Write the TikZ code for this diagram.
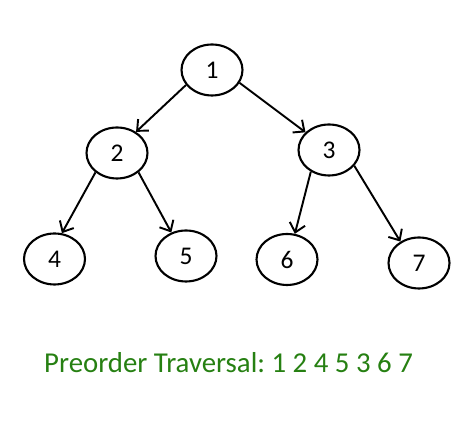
\documentclass[tikz,border=0pt]{standalone}
\usepackage{fontspec}
\setmainfont{Carlito}
\usetikzlibrary{arrows.meta,shapes.geometric}
\definecolor{travgreen}{RGB}{38,128,18}
\frenchspacing

\begin{document}
\begin{tikzpicture}[
  x=0.02cm,y=-0.02cm,
  treenode/.style={ellipse,draw,line width=1.2pt,minimum width=1.22cm,
                   minimum height=1.02cm,inner sep=0pt,font=\fontsize{14.5}{17}\selectfont},
  link/.style={-{Straight Barb[length=5pt,width=9pt,line width=1.1pt]},line width=1.1pt}
]
  \useasboundingbox (0,0) rectangle (476,421);
  \node[treenode] (n1) at (212,70)    {1};
  \node[treenode] (n2) at (117,153)   {2};
  \node[treenode] (n3) at (329,150)   {3};
  \node[treenode] (n4) at (54.5,259)  {4};
  \node[treenode] (n5) at (186,256)   {5};
  \node[treenode] (n6) at (287,259.5) {6};
  \node[treenode] (n7) at (419,263)   {7};

  \foreach \a/\sa/\b/\eb in {n1/210/n2/48,n1/335/n3/143,n2/222/n4/74,
                             n2/318/n5/122,n3/230/n6/73,n3/328/n7/131}{
    \draw[link] (\a.\sa)--(\b.\eb);
  }

  \node[anchor=base,text=travgreen,font=\fontsize{16.4}{20}\selectfont,inner sep=0pt]
    (trav) at (228.5,373) {Preorder Traversal: 1 2 4 5 3 6 7};
\end{tikzpicture}
\end{document}
